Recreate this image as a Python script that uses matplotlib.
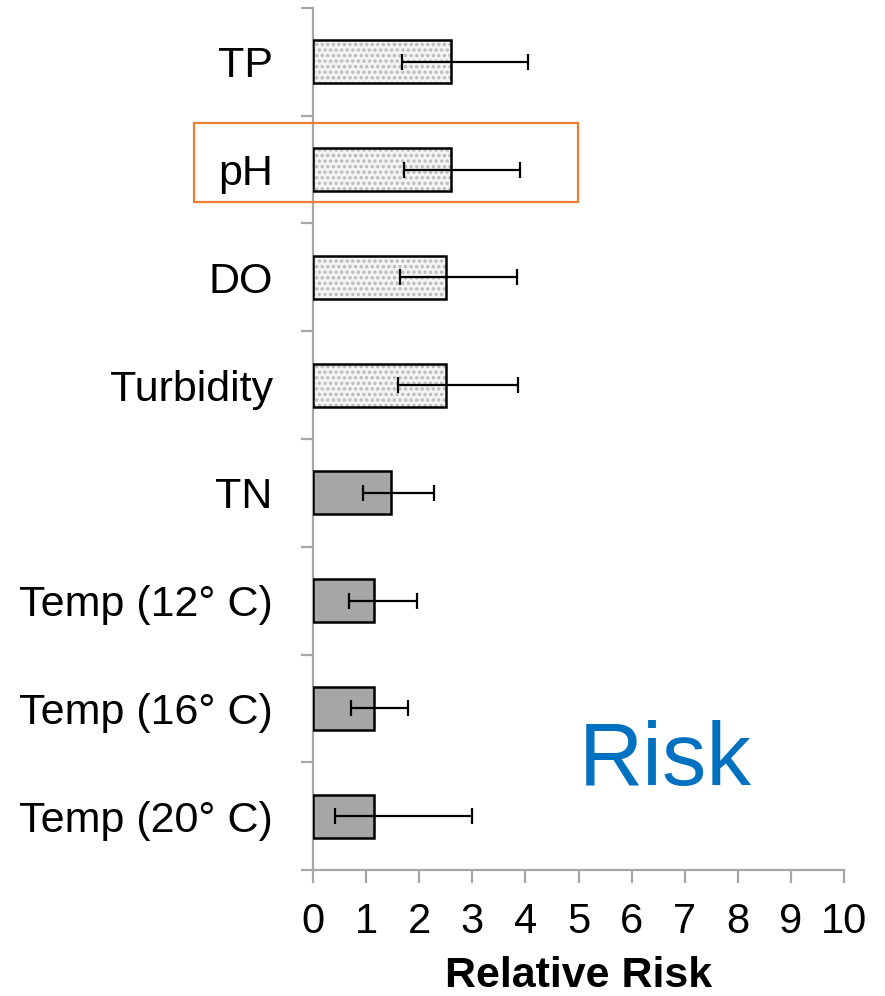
import matplotlib.pyplot as plt
from matplotlib.patches import Rectangle

plt.rcParams['font.family'] = ['Liberation Sans', 'DejaVu Sans']
plt.rcParams['hatch.linewidth'] = 1.6

# relative risk per water quality variable, top to bottom
labels = ['TP', 'pH', 'DO', 'Turbidity', 'TN',
          'Temp (12° C)', 'Temp (16° C)', 'Temp (20° C)']
risk = [2.60, 2.59, 2.51, 2.50, 1.47, 1.14, 1.14, 1.14]
ci_low = [1.68, 1.71, 1.63, 1.61, 0.94, 0.67, 0.72, 0.42]
ci_high = [4.05, 3.90, 3.85, 3.87, 2.28, 1.95, 1.79, 3.00]
dotted = [True, True, True, True, False, False, False, False]

axis_grey = '#a6a6a6'

fig = plt.figure(figsize=(8.85, 9.96), dpi=100)
ax = fig.add_axes([313/885, 126/996, 531/885, 862/996])

n = len(labels)
ypos = list(range(n))
ax.set_ylim(n - 0.5, -0.5)
ax.set_xlim(0, 10)

for y, r, d in zip(ypos, risk, dotted):
    if d:
        ax.barh(y, r, height=0.4, color='#f4f4f4', edgecolor='#b8b8b8',
                hatch='...', linewidth=0, zorder=2)
        ax.barh(y, r, height=0.4, fill=False, edgecolor='black',
                linewidth=1.8, zorder=3)
    else:
        ax.barh(y, r, height=0.4, color='#a6a6a6', edgecolor='black',
                linewidth=1.8, zorder=3)

xerr = [[r - lo for r, lo in zip(risk, ci_low)],
        [hi - r for r, hi in zip(risk, ci_high)]]
ax.errorbar(risk, ypos, xerr=xerr, fmt='none', ecolor='black',
            elinewidth=1.6, capsize=6, capthick=1.6, zorder=4)

# axes styling
for side in ['top', 'right']:
    ax.spines[side].set_visible(False)
for side in ['left', 'bottom']:
    ax.spines[side].set_color(axis_grey)
    ax.spines[side].set_linewidth(1.6)

ax.set_yticks(ypos)
ax.set_yticklabels(labels, fontsize=31)
ax.set_yticks([i - 0.5 for i in range(n + 1)], minor=True)
ax.tick_params(axis='y', which='major', length=0, pad=29)
ax.tick_params(axis='y', which='minor', length=9, width=1.6, color=axis_grey)

ax.set_xticks(range(11))
ax.tick_params(axis='x', labelsize=30, length=9, width=1.6,
               color=axis_grey, pad=14)
ax.set_xlabel('Relative Risk', fontsize=31, fontweight='bold', labelpad=10)

# highlight box around the pH row
box = Rectangle((194/885, 1 - 202/996), (578 - 194)/885, (202 - 123)/996,
                transform=fig.transFigure, fill=False,
                edgecolor='#ED7D31', linewidth=1.6, zorder=5)
fig.patches.append(box)

ax.text(6.63, 6.71, 'Risk', fontsize=64, color='#0070C0',
        ha='center', va='baseline')

fig.savefig('out.png', dpi=100)
